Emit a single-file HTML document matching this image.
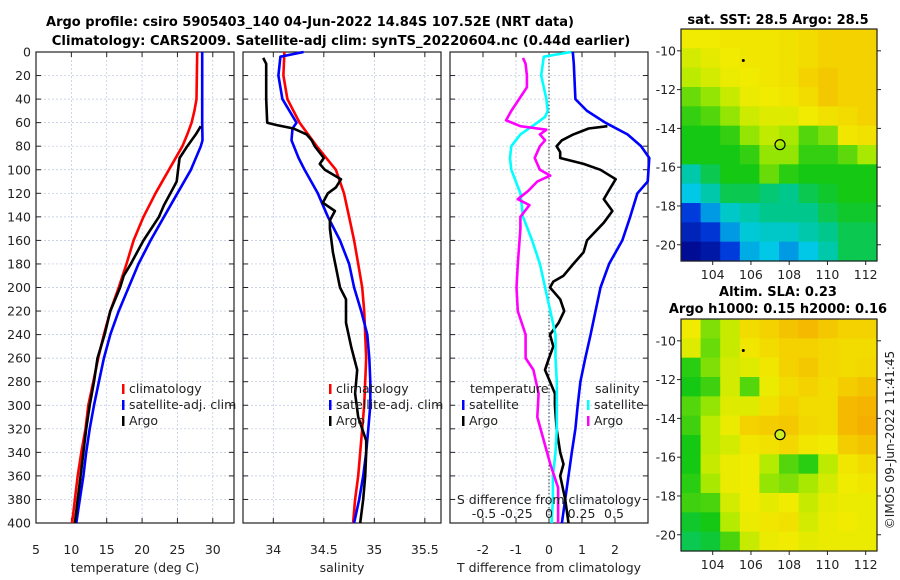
<!DOCTYPE html>
<html><head><meta charset="utf-8"><style>
html,body{margin:0;padding:0;background:#fff}
svg{display:block;font-family:"DejaVu Sans","Liberation Sans",sans-serif}
</style></head><body>
<svg id="s" width="900" height="580" viewBox="0 0 900 580" xmlns="http://www.w3.org/2000/svg">
<text x="310" y="26" text-anchor="middle" font-weight="bold" font-size="13">Argo profile: csiro 5905403_140 04-Jun-2022 14.84S 107.52E (NRT data)</text>
<text x="341" y="45" text-anchor="middle" font-weight="bold" font-size="13.2">Climatology: CARS2009. Satellite-adj clim: synTS_20220604.nc (0.44d earlier)</text>
<text x="778" y="24" text-anchor="middle" font-weight="bold" font-size="13">sat. SST: 28.5 Argo: 28.5</text>
<text x="778" y="296" text-anchor="middle" font-weight="bold" font-size="13">Altim. SLA: 0.23</text>
<text x="778" y="313" text-anchor="middle" font-weight="bold" font-size="13">Argo h1000: 0.15 h2000: 0.16</text>
<text transform="translate(894,440) rotate(-90)" text-anchor="middle" font-size="12" fill="#222">©IMOS 09-Jun-2022 11:41:45</text>
</svg>
<script>
// ---- data ----
const depthTicks=[0,20,40,60,80,100,120,140,160,180,200,220,240,260,280,300,320,340,360,380,400];
const tempTicks=[5,10,15,20,25,30];
const salTicks=[34,34.5,35,35.5];
const tdiffTicks=[-2,-1,0,1,2];
const sdiffTicks=[-0.5,-0.25,0,0.25,0.5];
const sdiffTickLabels=["-0.5","-0.25","0","0.25","0.5"];
const tClimD=[0,40,50,60,70,80,100,120,140,160,180,200,220,240,260,280,300,320,340,360,380,400];
const tClimV=[27.8,27.7,27.4,27,26.4,25.7,23.8,21.9,20.2,18.8,17.8,16.7,15.5,14.6,13.8,13.1,12.4,12,11.4,10.9,10.5,10.1];
const tSatD=[0,60,75,80,100,120,140,160,180,200,220,240,260,280,300,320,340,360,380,400];
const tSatV=[28.5,28.5,28.55,28.3,26.9,25,23.1,21.2,19.5,18.1,16.7,15.5,14.6,13.9,13.2,12.6,12.1,11.7,11.2,10.7];
const tArgoD=[63,70,80,90,100,110,120,130,140,160,180,190,200,220,240,260,280,300,320,340,360,380,400];
const tArgoV=[28.3,27.6,26.4,25.3,25.1,24.9,24,23.1,22.4,20.2,18.4,17.4,16.9,15.5,14.7,13.7,13.2,12.6,12.1,11.7,11.3,10.9,10.5];
const sClimD=[0,20,40,60,80,100,120,140,160,180,200,220,260,280,300,340,360,380,400];
const sClimV=[34.11,34.1,34.14,34.26,34.43,34.62,34.7,34.75,34.8,34.84,34.88,34.9,34.92,34.91,34.9,34.86,34.84,34.81,34.79];
const sSatD=[0,4,20,40,50,60,65,75,90,100,120,140,160,180,200,220,240,260,280,300,320,340,360,380,400];
const sSatV=[34.3,34.07,34.05,34.09,34.16,34.23,34.19,34.18,34.25,34.31,34.44,34.54,34.66,34.75,34.8,34.87,34.93,34.95,34.96,34.96,34.94,34.92,34.89,34.85,34.8];
const sArgoD=[5,10,20,40,60,62,65,70,75,80,90,95,100,108,115,120,128,135,143,150,170,200,210,230,250,260,270,290,310,330,340,360,380,400];
const sArgoV=[33.9,33.93,33.93,33.93,33.94,34.03,34.2,34.33,34.38,34.41,34.5,34.46,34.51,34.67,34.62,34.54,34.49,34.61,34.56,34.56,34.59,34.66,34.72,34.72,34.77,34.8,34.83,34.81,34.84,34.92,34.92,34.91,34.89,34.86];
const dTSatD=[0,10,40,50,60,70,80,90,110,120,140,160,180,200,220,240,260,280,300,320,340,360,380,400];
const dTSatV=[0.72,0.75,0.8,1.15,1.71,2.38,2.79,3.04,2.99,2.68,2.46,2.22,1.82,1.56,1.41,1.26,1.1,0.95,0.87,0.8,0.69,0.59,0.49,0.39];
const dTArgoD=[63,65,70,75,80,85,90,95,100,108,115,125,135,145,160,170,180,190,195,200,210,220,230,240,250,260,270,280,290,300,320,340,350,360,380,400];
const dTArgoV=[1.77,1.2,0.74,0.39,0.23,0.34,0.34,1.05,1.56,2.02,1.87,1.66,1.92,1.66,1.15,1.05,0.74,0.44,0.13,0.03,0.34,0.46,0.29,0.03,0.13,0,-0.12,0.03,0.18,0.18,0.23,0.34,0.44,0.34,0.49,0.59];
const dSSatD=[0,4,20,40,50,55,60,70,80,90,100,120,140,160,180,200,220,240,260,280,300,320,340,360,380,400];
const dSSatV=[0.17,-0.04,-0.06,-0.02,-0.01,-0.03,-0.09,-0.22,-0.29,-0.3,-0.29,-0.22,-0.2,-0.13,-0.07,-0.03,0.01,0.05,0.05,0.06,0.06,0.06,0.05,0.03,0.03,0.02];
const dSArgoD=[5,10,20,30,40,50,58,63,66,70,75,80,90,100,105,110,118,125,130,140,150,180,200,220,240,260,270,290,310,330,350,370,400];
const dSArgoV=[-0.2,-0.18,-0.17,-0.17,-0.23,-0.29,-0.33,-0.22,-0.02,-0.07,-0.03,-0.07,-0.11,-0.07,0.01,-0.09,-0.16,-0.24,-0.15,-0.22,-0.22,-0.24,-0.25,-0.24,-0.18,-0.18,-0.12,-0.08,-0.09,-0.04,0.01,0.07,0.07];
const lonTicks=[104,106,108,110,112];
const latTicks=[-10,-12,-14,-16,-18,-20];
const sstGrid=[
[0.85,0.85,0.86,0.86,0.86,0.87,0.88,0.9,0.9,0.9],
[0.8,0.83,0.85,0.86,0.86,0.87,0.88,0.9,0.9,0.9],
[0.76,0.8,0.84,0.85,0.86,0.87,0.9,0.92,0.9,0.9],
[0.68,0.72,0.78,0.84,0.85,0.86,0.88,0.92,0.9,0.9],
[0.63,0.66,0.72,0.79,0.82,0.82,0.85,0.87,0.88,0.9],
[0.6,0.6,0.63,0.72,0.77,0.74,0.66,0.7,0.86,0.87],
[0.6,0.6,0.6,0.63,0.72,0.72,0.63,0.63,0.67,0.74],
[0.45,0.55,0.6,0.6,0.68,0.62,0.6,0.6,0.6,0.6],
[0.35,0.45,0.55,0.55,0.52,0.5,0.55,0.58,0.6,0.6],
[0.2,0.3,0.4,0.45,0.5,0.5,0.5,0.55,0.58,0.58],
[0.12,0.18,0.3,0.38,0.4,0.4,0.45,0.5,0.55,0.55],
[0.04,0.08,0.2,0.32,0.35,0.3,0.35,0.45,0.55,0.55]];
const slaGrid=[
[0.85,0.7,0.78,0.88,0.9,0.93,0.95,0.92,0.9,0.9],
[0.82,0.68,0.78,0.86,0.88,0.9,0.9,0.89,0.88,0.88],
[0.62,0.7,0.8,0.82,0.86,0.9,0.92,0.89,0.88,0.89],
[0.6,0.64,0.8,0.66,0.84,0.88,0.9,0.88,0.91,0.93],
[0.66,0.72,0.82,0.82,0.87,0.9,0.88,0.88,0.95,0.96],
[0.64,0.76,0.84,0.9,0.91,0.92,0.89,0.88,0.95,0.97],
[0.6,0.76,0.8,0.86,0.87,0.89,0.86,0.85,0.91,0.93],
[0.6,0.78,0.84,0.85,0.75,0.66,0.62,0.76,0.86,0.88],
[0.62,0.74,0.84,0.85,0.72,0.7,0.74,0.8,0.85,0.86],
[0.64,0.65,0.8,0.85,0.83,0.85,0.78,0.83,0.84,0.84],
[0.58,0.6,0.75,0.84,0.86,0.87,0.8,0.84,0.85,0.84],
[0.55,0.57,0.65,0.78,0.84,0.85,0.83,0.84,0.84,0.84]];
// ---- helpers ----
const NS="http://www.w3.org/2000/svg",S=document.getElementById('s');
function mk(t,a,p){const e=document.createElementNS(NS,t);for(const k in a)e.setAttribute(k,a[k]);(p||S).appendChild(e);return e;}
const Y0=52,Y1=523,yD=d=>Y0+(Y1-Y0)*d/400;
function lin(a,b,pa,pb){return v=>pa+(v-a)*(pb-pa)/(b-a);}
const panels=[
 {x0:36,x1:234,f:lin(5,33,36,234),ticks:tempTicks,xl:"temperature (deg C)",nm:"temperature"},
 {x0:243,x1:441,f:lin(33.7,35.66,243,441),ticks:salTicks,xl:"salinity",nm:"salinity"},
 {x0:450,x1:648,f:lin(-3,3,450,648),ticks:tdiffTicks,xl:"T difference from climatology",nm:"difference"}];
const sX=lin(-0.5,0.5,484,614);
panels.forEach((p,i)=>{
  const g=mk('g',{});
  
  
  p.ticks.forEach(t=>{const x=p.f(t);
    const l=mk('line',{x1:x,x2:x,y1:Y0,y2:Y1,stroke:'#b8c4e0','stroke-width':0.7,'stroke-dasharray':'2,2'},g);
    
    mk('line',{x1:x,x2:x,y1:Y1,y2:Y1-5,stroke:'#222'},g);mk('line',{x1:x,x2:x,y1:Y0,y2:Y0+5,stroke:'#222'},g);
    const tx=mk('text',{x:x,y:Y1+31,'text-anchor':'middle','font-size':12.5,fill:'#222'},g);tx.textContent=t;
    });
  depthTicks.forEach(d=>{const y=yD(d);
    mk('line',{x1:p.x0,x2:p.x1,y1:y,y2:y,stroke:'#b8c4e0','stroke-width':0.7,'stroke-dasharray':'2,2'},g);
    mk('line',{x1:p.x0,x2:p.x0+5,y1:y,y2:y,stroke:'#222'},g);mk('line',{x1:p.x1,x2:p.x1-5,y1:y,y2:y,stroke:'#222'},g);
    if(i==0){const tx=mk('text',{x:31,y:y+4.5,'text-anchor':'end','font-size':12.5,fill:'#222'},g);tx.textContent=d;
      }});
  const xl=mk('text',{x:(p.x0+p.x1)/2,y:572,'text-anchor':'middle','font-size':12.5,fill:'#222'},g);xl.textContent=p.xl;
  
  const fr=mk('rect',{x:p.x0,y:Y0,width:p.x1-p.x0,height:Y1-Y0,fill:'none',stroke:'#222','stroke-width':1.2},g);
  
});
mk('line',{x1:panels[2].f(0),x2:panels[2].f(0),y1:Y0,y2:Y1,stroke:'#333','stroke-dasharray':'1.5,2'});
function series(D,V,f,col,name){const pts=D.map((d,i)=>f(V[i]).toFixed(1)+','+yD(d).toFixed(1)).join(' ');
  const e=mk('polyline',{points:pts,fill:'none',stroke:col,'stroke-width':2.6,'stroke-linejoin':'round'});
  }
const fT=panels[0].f,fS=panels[1].f,fD=panels[2].f;
series(tClimD,tClimV,fT,'#f00','temp-climatology-line');
series(tSatD,tSatV,fT,'#00f','temp-satellite-line');
series(tArgoD,tArgoV,fT,'#000','temp-argo-line');
series(sClimD,sClimV,fS,'#f00','sal-climatology-line');
series(sSatD,sSatV,fS,'#00f','sal-satellite-line');
series(sArgoD,sArgoV,fS,'#000','sal-argo-line');
series(dTSatD,dTSatV,fD,'#00f','tdiff-satellite-line');
series(dTArgoD,dTArgoV,fD,'#000','tdiff-argo-line');
series(dSSatD,dSSatV,sX,'#0ff','sdiff-satellite-line');
series(dSArgoD,dSArgoV,sX,'#f0f','sdiff-argo-line');
// S diff axis labels
{const t=mk('text',{x:549,y:504,'text-anchor':'middle','font-size':12.5,fill:'#222'});t.textContent='S difference from climatology';
}
sdiffTicks.forEach((v,i)=>{const t=mk('text',{x:sX(v),y:518,'text-anchor':'middle','font-size':12.5,fill:'#222'});t.textContent=sdiffTickLabels[i];
});
// legends
function leg(x,y,col,label){const g=mk('g',{});
  
  mk('rect',{x:x,y:y-9,width:2.5,height:10,fill:col},g);
  const t=mk('text',{x:x+7,y:y,'font-size':12.5,fill:'#222'},g);t.textContent=label;}
leg(122,393,'#f00','climatology');leg(122,409,'#00f','satellite-adj. clim');leg(122,425,'#000','Argo');
leg(329,393,'#f00','climatology');leg(329,409,'#00f','satellite-adj. clim');leg(329,425,'#000','Argo');
{const t=mk('text',{x:470,y:393,'font-size':12.5,fill:'#222'});t.textContent='temperature';}
{const t=mk('text',{x:595,y:393,'font-size':12.5,fill:'#222'});t.textContent='salinity';}
leg(462,409,'#00f','satellite');leg(462,425,'#000','Argo');
leg(587,409,'#0ff','satellite');leg(587,425,'#f0f','Argo');
// maps
function jet(v){const st=[[0,[0,0,130]],[0.2,[0,60,220]],[0.35,[0,200,230]],[0.5,[0,200,140]],[0.6,[20,200,20]],[0.75,[180,235,0]],[0.85,[240,235,0]],[0.95,[245,185,0]],[1,[245,160,0]]];
  for(let i=1;i<st.length;i++)if(v<=st[i][0]){const a=st[i-1],b=st[i],t=(v-a[0])/(b[0]-a[0]);
    return 'rgb('+a[1].map((c,k)=>Math.round(c+(b[1][k]-c)*t)).join(',')+')';}return 'rgb(245,160,0)';}
function map(top,bot,grid,nm,circleFill){
  const L=681,R=877,lonF=lin(104,112,712.7,865.7),latF=lin(-10,-20,top+(bot-top)*0.094,top+(bot-top)*0.93);
  const g=mk('g',{});
  const nr=grid.length,nc=grid[0].length,cw=(R-L)/nc,ch=(bot-top)/nr;
  grid.forEach((row,r)=>row.forEach((v,c)=>{const e=mk('rect',{x:L+c*cw,y:top+r*ch,width:cw+0.6,height:ch+0.6,fill:jet(v)},g);
    }));
  mk('rect',{x:L,y:top,width:R-L,height:bot-top,fill:'none',stroke:'#222','stroke-width':1.2},g);
  lonTicks.forEach(v=>{const x=lonF(v);mk('line',{x1:x,x2:x,y1:bot,y2:bot+4,stroke:'#222'},g);
    const t=mk('text',{x:x,y:bot+18,'text-anchor':'middle','font-size':12.5,fill:'#222'},g);t.textContent=v;
    });
  latTicks.forEach(v=>{const y=latF(v);mk('line',{x1:L-4,x2:L,y1:y,y2:y,stroke:'#222'},g);mk('line',{x1:R,x2:R+4,y1:y,y2:y,stroke:'#222'},g);
    const t=mk('text',{x:L-5,y:y+4.5,'text-anchor':'end','font-size':12.5,fill:'#222'},g);t.textContent=v;
    });
  const c=mk('circle',{cx:lonF(107.52),cy:latF(-14.84),r:5,fill:circleFill,stroke:'#000','stroke-width':1.2},g);
  
  mk('circle',{cx:lonF(105.6),cy:latF(-10.5),r:1.5,fill:'#000'},g);
}
map(29,261,sstGrid,'sst-map','none');
map(319,551,slaGrid,'sla-map','#ccee22');
</script>
</body></html>
